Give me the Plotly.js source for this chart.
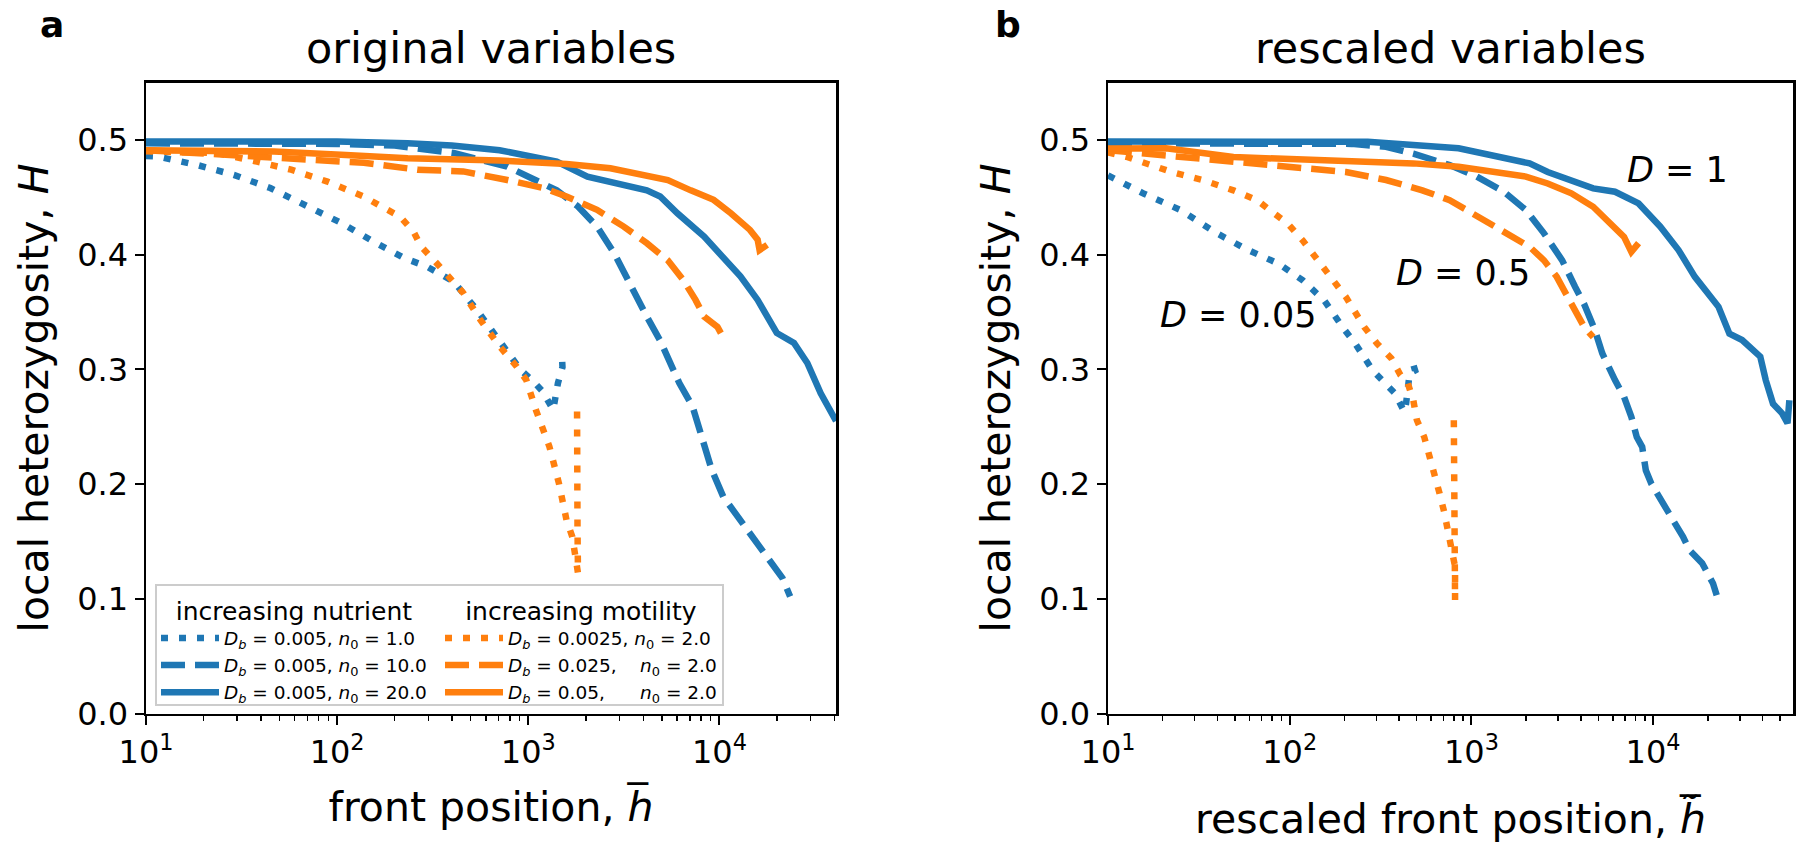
<!DOCTYPE html>
<html>
<head>
<meta charset="utf-8">
<script src="https://cdn.plot.ly/plotly-3.0.1.min.js"></script>
<style>html,body{margin:0;padding:0;background:#fff;}#chart{width:1800px;height:861px;}</style>
</head>
<body>
<div id="chart"></div>
<script>
// ---------------- data ----------------
const legendNames = [
  "<i>D</i><sub><i>b</i></sub> = 0.005, <i>n</i><sub>0</sub> = 1.0",
  "<i>D</i><sub><i>b</i></sub> = 0.005, <i>n</i><sub>0</sub> = 10.0",
  "<i>D</i><sub><i>b</i></sub> = 0.005, <i>n</i><sub>0</sub> = 20.0",
  "<i>D</i><sub><i>b</i></sub> = 0.0025, <i>n</i><sub>0</sub> = 2.0",
  "<i>D</i><sub><i>b</i></sub> = 0.025,\u00a0\u00a0\u00a0\u00a0<i>n</i><sub>0</sub> = 2.0",
  "<i>D</i><sub><i>b</i></sub> = 0.05,\u00a0\u00a0\u00a0\u00a0\u00a0\u00a0<i>n</i><sub>0</sub> = 2.0"
];
const legendTitles = ["increasing nutrient", "increasing motility"];
const panelTitles = ["original variables", "rescaled variables"];
const panelLetters = ["a", "b"];
const xTickVals = [10, 100, 1000, 10000];
const xTickText = ["10<sup>1</sup>", "10<sup>2</sup>", "10<sup>3</sup>", "10<sup>4</sup>"];
const yTickVals = [0, 0.1, 0.2, 0.3, 0.4, 0.5];
const yTickText = ["0.0", "0.1", "0.2", "0.3", "0.4", "0.5"];
const bAnnotTexts = ["<i>D</i> = 1", "<i>D</i> = 0.5", "<i>D</i> = 0.05"];

// panel a : original variables
const aNut1X = [10, 11.5, 18.6, 28.8, 44.7, 69, 105, 155, 224, 295, 407, 537, 708, 912, 1070, 1190, 1350, 1430, 1510, 1500];
const aNut1H = [0.486, 0.4855, 0.478, 0.4695, 0.458, 0.442, 0.4276, 0.4113, 0.397, 0.3895, 0.3765, 0.352, 0.3256, 0.2995, 0.289, 0.2806, 0.2646, 0.288, 0.302, 0.311];
const aNut2X = [10, 31.6, 100, 200, 407, 776, 1070, 1410, 1820, 2290, 2820, 3310, 4170, 4900, 5500, 6170, 7240, 8130, 9120, 10470, 11750, 13180, 14790, 16980, 19950, 21380, 23440];
const aNut2H = [0.497, 0.497, 0.4965, 0.495, 0.4886, 0.4767, 0.465, 0.456, 0.442, 0.4244, 0.401, 0.378, 0.346, 0.325, 0.3055, 0.288, 0.2675, 0.2413, 0.2123, 0.189, 0.1774, 0.166, 0.154, 0.1425, 0.125, 0.118, 0.102];
const aNut3X = [10, 31.6, 100, 234, 398, 708, 1000, 1410, 2040, 2820, 3550, 4170, 4900, 6030, 8320, 10470, 12880, 15850, 19950, 24550, 28840, 33880, 38020, 40740];
const aNut3H = [0.4985, 0.499, 0.4985, 0.497, 0.495, 0.491, 0.486, 0.481, 0.468, 0.462, 0.458, 0.456, 0.4506, 0.436, 0.4157, 0.398, 0.381, 0.3605, 0.3317, 0.323, 0.3055, 0.279, 0.265, 0.255];
const aMot1X = [10, 12, 23.4, 38, 57.5, 89, 138, 170, 214, 251, 275, 331, 380, 457, 562, 708, 871, 977, 1096, 1190, 1290, 1445, 1585, 1700, 1780, 1820, 1810, 1800, 1800];
const aMot1H = [0.49, 0.4895, 0.4886, 0.481, 0.474, 0.4636, 0.4505, 0.442, 0.433, 0.42, 0.407, 0.3927, 0.381, 0.3666, 0.343, 0.32, 0.3023, 0.2907, 0.2646, 0.25, 0.2326, 0.201, 0.1687, 0.154, 0.137, 0.1225, 0.16, 0.2, 0.265];
const aMot2X = [10, 46.8, 138, 263, 457, 776, 1200, 1585, 2290, 3160, 4170, 5370, 6460, 7500, 8320, 9770, 10470, 10700];
const aMot2H = [0.491, 0.484, 0.48, 0.474, 0.4725, 0.465, 0.458, 0.4506, 0.439, 0.4244, 0.41, 0.395, 0.378, 0.3605, 0.346, 0.337, 0.3274, 0.325];
const aMot3X = [10, 46.8, 105, 234, 708, 1585, 2690, 3720, 5370, 7080, 9330, 11480, 14450, 15850, 16220, 17780];
const aMot3H = [0.491, 0.4898, 0.487, 0.484, 0.482, 0.479, 0.4753, 0.471, 0.465, 0.456, 0.4477, 0.436, 0.4215, 0.413, 0.404, 0.4085];

// panel b : rescaled variables
const bNut1X = [10, 15.8, 25.1, 39.8, 58.9, 87.1, 117.5, 155, 195, 229, 288, 331, 380, 427, 437, 457, 490, 468];
const bNut1H = [0.469, 0.453, 0.4388, 0.4185, 0.404, 0.392, 0.3778, 0.36, 0.337, 0.3226, 0.2985, 0.289, 0.279, 0.263, 0.27, 0.2964, 0.299, 0.3095];
const bNut2X = [10, 100, 219, 339, 479, 759, 1070, 1510, 1995, 2510, 3160, 3720, 4170, 4790, 5250, 6170, 6920, 7590, 8130, 8710, 9120, 9770, 11220, 12880, 14620, 15850, 18620, 21380, 22390];
const bNut2H = [0.497, 0.497, 0.4965, 0.494, 0.488, 0.478, 0.468, 0.4548, 0.4388, 0.4185, 0.395, 0.372, 0.357, 0.334, 0.314, 0.2906, 0.276, 0.2586, 0.241, 0.2324, 0.212, 0.2005, 0.183, 0.1685, 0.154, 0.1424, 0.131, 0.1133, 0.103];
const bNut3X = [10, 100, 269, 851, 1510, 2090, 2630, 3720, 4680, 6170, 8320, 10960, 13800, 16980, 22910, 26300, 30900, 38900, 41690, 45710, 51290, 54950, 56230];
const bNut3H = [0.4985, 0.4985, 0.4983, 0.4926, 0.485, 0.4795, 0.472, 0.4635, 0.4577, 0.4548, 0.4446, 0.4243, 0.404, 0.3806, 0.3545, 0.331, 0.3255, 0.311, 0.2906, 0.27, 0.2616, 0.253, 0.273];
const bMot1X = [10, 12.6, 22.4, 33.1, 49, 66.1, 77.6, 97.7, 117.5, 138, 166, 204, 257, 302, 363, 407, 447, 479, 501, 550, 589, 631, 668, 708, 741, 776, 813, 813, 804, 800, 800];
const bMot1H = [0.489, 0.4853, 0.472, 0.465, 0.456, 0.4475, 0.4388, 0.427, 0.4126, 0.398, 0.3806, 0.363, 0.337, 0.3226, 0.3095, 0.295, 0.2877, 0.273, 0.2557, 0.241, 0.2237, 0.2078, 0.1918, 0.1758, 0.16, 0.1439, 0.128, 0.0988, 0.15, 0.2, 0.26];
const bMot2X = [10, 49, 117.5, 204, 339, 537, 759, 1000, 1350, 1700, 2090, 2510, 2950, 3310, 3720, 3980, 4170, 4680];
const bMot2H = [0.491, 0.481, 0.4766, 0.472, 0.465, 0.456, 0.4475, 0.436, 0.4243, 0.4155, 0.4068, 0.395, 0.3806, 0.366, 0.3516, 0.342, 0.337, 0.328];
const bMot3X = [10, 20.9, 49, 155, 479, 851, 1350, 1995, 2630, 3550, 4680, 5890, 6920, 7590, 8320];
const bMot3H = [0.4925, 0.4926, 0.485, 0.4824, 0.4795, 0.4766, 0.472, 0.468, 0.462, 0.4534, 0.4417, 0.427, 0.4155, 0.4024, 0.41];

// ---------------- styling ----------------
const BLUE = "#1f77b4", ORANGE = "#ff7f0e";
const LW = 6.5;
const DOT = "7px,11px", DASH = "24px,10px";
const FONT = "DejaVu Sans, Liberation Sans, sans-serif";

function tr(x, y, color, dash, xa, ya, name, legend, show) {
  return {
    type: "scatter", mode: "lines", x: x, y: y, name: name,
    xaxis: xa, yaxis: ya, legend: legend, showlegend: show,
    line: {color: color, width: LW, dash: dash},
    hoverinfo: "skip"
  };
}

const traces = [
  tr(aNut1X, aNut1H, BLUE, DOT, "x", "y", legendNames[0], "legend", true),
  tr(aNut2X, aNut2H, BLUE, DASH, "x", "y", legendNames[1], "legend", true),
  tr(aNut3X, aNut3H, BLUE, "solid", "x", "y", legendNames[2], "legend", true),
  tr(aMot1X, aMot1H, ORANGE, DOT, "x", "y", legendNames[3], "legend2", true),
  tr(aMot2X, aMot2H, ORANGE, DASH, "x", "y", legendNames[4], "legend2", true),
  tr(aMot3X, aMot3H, ORANGE, "solid", "x", "y", legendNames[5], "legend2", true),
  tr(bNut1X, bNut1H, BLUE, DOT, "x2", "y2", legendNames[0], "legend", false),
  tr(bNut2X, bNut2H, BLUE, DASH, "x2", "y2", legendNames[1], "legend", false),
  tr(bNut3X, bNut3H, BLUE, "solid", "x2", "y2", legendNames[2], "legend", false),
  tr(bMot1X, bMot1H, ORANGE, DOT, "x2", "y2", legendNames[3], "legend2", false),
  tr(bMot2X, bMot2H, ORANGE, DASH, "x2", "y2", legendNames[4], "legend2", false),
  tr(bMot3X, bMot3H, ORANGE, "solid", "x2", "y2", legendNames[5], "legend2", false)
];

// minor tick positions (2..9 within each decade)
const minorVals = [];
for (let e = 1; e <= 4; e++) for (let m = 2; m <= 9; m++) minorVals.push(m * Math.pow(10, e));

const W = 1800, H = 861;
const yDom = [1 - 713.5 / H, 1 - 82.5 / H];
const xDomA = [146 / W, 836 / W];
const xDomB = [1108 / W, 1793 / W];

function xAxis(dom, range, anchor, title, standoff) {
  return {
    type: "log", domain: dom, range: range, anchor: anchor,
    tickmode: "array", tickvals: xTickVals, ticktext: xTickText,
    ticks: "outside", ticklen: 9, tickwidth: 2, tickcolor: "#000",
    minor: {tickmode: "array", tickvals: minorVals, ticks: "outside", ticklen: 5, tickwidth: 1.5, tickcolor: "#000", showgrid: false},
    showline: true, linecolor: "#000", linewidth: 2.5, mirror: true,
    showgrid: false, zeroline: false, automargin: false,
    tickfont: {family: FONT, size: 32, color: "#000"},
    title: {text: title, font: {family: FONT, size: 41, color: "#000"}, standoff: standoff}
  };
}
function yAxis(anchor) {
  return {
    domain: yDom, range: [0, 0.55], anchor: anchor,
    tickmode: "array", tickvals: yTickVals, ticktext: yTickText,
    ticks: "outside", ticklen: 9, tickwidth: 2, tickcolor: "#000",
    showline: true, linecolor: "#000", linewidth: 2.5, mirror: true,
    showgrid: false, zeroline: false, automargin: false,
    tickfont: {family: FONT, size: 32, color: "#000"},
    title: {text: "local heterozygosity, <i>H</i>", font: {family: FONT, size: 41, color: "#000"}, standoff: 16}
  };
}

const legendCommon = {
  bgcolor: "rgba(0,0,0,0)", borderwidth: 0,
  font: {family: FONT, size: 18.5, color: "#000"},
  xanchor: "left", yanchor: "top", tracegroupgap: 0, itemwidth: 58
};

const layout = {
  width: W, height: H,
  margin: {l: 0, r: 0, t: 0, b: 0},
  paper_bgcolor: "#fff", plot_bgcolor: "#fff",
  xaxis: xAxis(xDomA, [1, 4.61], "y", "front position, <i>h\u0305</i>", 22),
  yaxis: yAxis("x"),
  xaxis2: xAxis(xDomB, [1, 4.77], "y2", "rescaled front position, <i>h\u0303\u0305</i>", 34),
  yaxis2: yAxis("x2"),
  legend: Object.assign({}, legendCommon, {
    x: 156 / W, y: 1 - 587 / H,
    title: {text: legendTitles[0], side: "top center", font: {family: FONT, size: 25, color: "#000"}}
  }),
  legend2: Object.assign({}, legendCommon, {
    x: 440 / W, y: 1 - 587 / H,
    title: {text: legendTitles[1], side: "top center", font: {family: FONT, size: 25, color: "#000"}}
  }),
  shapes: [{
    type: "rect", xref: "paper", yref: "paper",
    x0: 156 / W, x1: 723 / W, y0: 1 - 705 / H, y1: 1 - 585 / H,
    line: {color: "rgb(204,204,204)", width: 2}, fillcolor: "rgba(255,255,255,0.8)", layer: "above"
  }],
  annotations: [
    {text: panelTitles[0], xref: "paper", yref: "paper", x: (xDomA[0] + xDomA[1]) / 2, y: 1 - 48 / H, xanchor: "center", yanchor: "middle", showarrow: false, font: {family: FONT, size: 43, color: "#000"}},
    {text: panelTitles[1], xref: "paper", yref: "paper", x: (xDomB[0] + xDomB[1]) / 2, y: 1 - 48 / H, xanchor: "center", yanchor: "middle", showarrow: false, font: {family: FONT, size: 43, color: "#000"}},
    {text: "<b>" + panelLetters[0] + "</b>", xref: "paper", yref: "paper", x: 52 / W, y: 1 - 25 / H, xanchor: "center", yanchor: "middle", showarrow: false, font: {family: FONT, size: 36, color: "#000"}},
    {text: "<b>" + panelLetters[1] + "</b>", xref: "paper", yref: "paper", x: 1008 / W, y: 1 - 25 / H, xanchor: "center", yanchor: "middle", showarrow: false, font: {family: FONT, size: 36, color: "#000"}},
    {text: bAnnotTexts[0], xref: "x2", yref: "y2", x: 4.135, y: 0.4737, xanchor: "center", yanchor: "middle", showarrow: false, font: {family: FONT, size: 35, color: "#000"}},
    {text: bAnnotTexts[1], xref: "x2", yref: "y2", x: 2.952, y: 0.384, xanchor: "center", yanchor: "middle", showarrow: false, font: {family: FONT, size: 35, color: "#000"}},
    {text: bAnnotTexts[2], xref: "x2", yref: "y2", x: 1.713, y: 0.347, xanchor: "center", yanchor: "middle", showarrow: false, font: {family: FONT, size: 35, color: "#000"}}
  ]
};

Plotly.newPlot("chart", traces, layout, {staticPlot: true, displayModeBar: false});
</script>
</body>
</html>
